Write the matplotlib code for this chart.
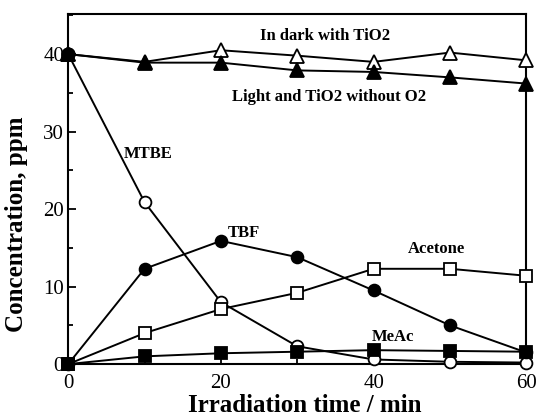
import numpy as np
import matplotlib.pyplot as plt
from matplotlib.ticker import MultipleLocator

# irradiation time, min
t = [0, 10, 20, 30, 40, 50, 60]

# concentrations, ppm
dark_tio2 = [40, 39, 40.5, 39.8, 39.0, 40.2, 39.2]
light_no_o2 = [40, 38.9, 38.9, 37.9, 37.7, 37.0, 36.2]
mtbe = [40, 20.9, 8.0, 2.3, 0.6, 0.3, 0.2]
tbf = [0, 12.3, 15.9, 13.8, 9.5, 5.0, 1.5]
acetone = [0, 4.0, 7.1, 9.2, 12.3, 12.3, 11.4]
meac = [0, 1.0, 1.4, 1.6, 1.8, 1.7, 1.6]

plt.rcParams['font.family'] = ['Liberation Serif', 'DejaVu Serif']

fig = plt.figure(figsize=(5.37, 4.19), dpi=100)
ax = fig.add_axes([0.127, 0.131, 0.853, 0.836])

kw = dict(color='black', lw=1.4, mew=1.3, mec='black', clip_on=False, zorder=3)
ax.plot(t, dark_tio2, marker='^', ms=9.5, mfc='white', **kw)
ax.plot(t, light_no_o2, marker='^', ms=9.5, mfc='black', **kw)
ax.plot(t, mtbe, marker='o', ms=8.5, mfc='white', **kw)
# starting point shown filled
ax.plot(t[:1], mtbe[:1], ls='none', marker='o', ms=9, mfc='black', **kw)
ax.plot(t, acetone, marker='s', ms=9, mfc='white', **kw)
ax.plot(t, meac, marker='s', ms=9, mfc='black', **kw)
ax.plot(t, tbf, marker='o', ms=8.5, mfc='black', **kw)

bold = dict(fontsize=12, fontweight='bold', va='center')
ax.text(25.1, 42.3, 'In dark with TiO2', **bold)
ax.text(21.5, 34.5, 'Light and TiO2 without O2', **bold)
ax.text(7.3, 27.1, 'MTBE', **bold)
ax.text(20.9, 16.9, 'TBF', **bold)
ax.text(44.5, 14.8, 'Acetone', **bold)
ax.text(39.8, 3.5, 'MeAc', **bold)

ax.set_xlim(0, 60)
ax.set_ylim(0, 45.2)
ax.set_xticks([0, 20, 40, 60])
ax.set_yticks([0, 10, 20, 30, 40])
ax.xaxis.set_minor_locator(MultipleLocator(10))
ax.yaxis.set_minor_locator(MultipleLocator(5))
ax.tick_params(which='both', direction='in', labelsize=15, width=1.3)
ax.tick_params(which='major', length=6)
ax.tick_params(which='minor', length=3.5)
ax.tick_params(axis='x', pad=7)
ax.tick_params(axis='y', pad=3)
for s in ax.spines.values():
    s.set_linewidth(1.5)

ax.set_xlabel('Irradiation time / min', fontsize=18, fontweight='bold')
ax.set_ylabel('Concentration, ppm', fontsize=18, fontweight='bold')
ax.xaxis.set_label_coords(0.517, -0.117)
ax.yaxis.set_label_coords(-0.113, 0.40)
ax.xaxis.label.set_va('center')
ax.yaxis.label.set_va('center')

fig.savefig('out.png', dpi=100)
